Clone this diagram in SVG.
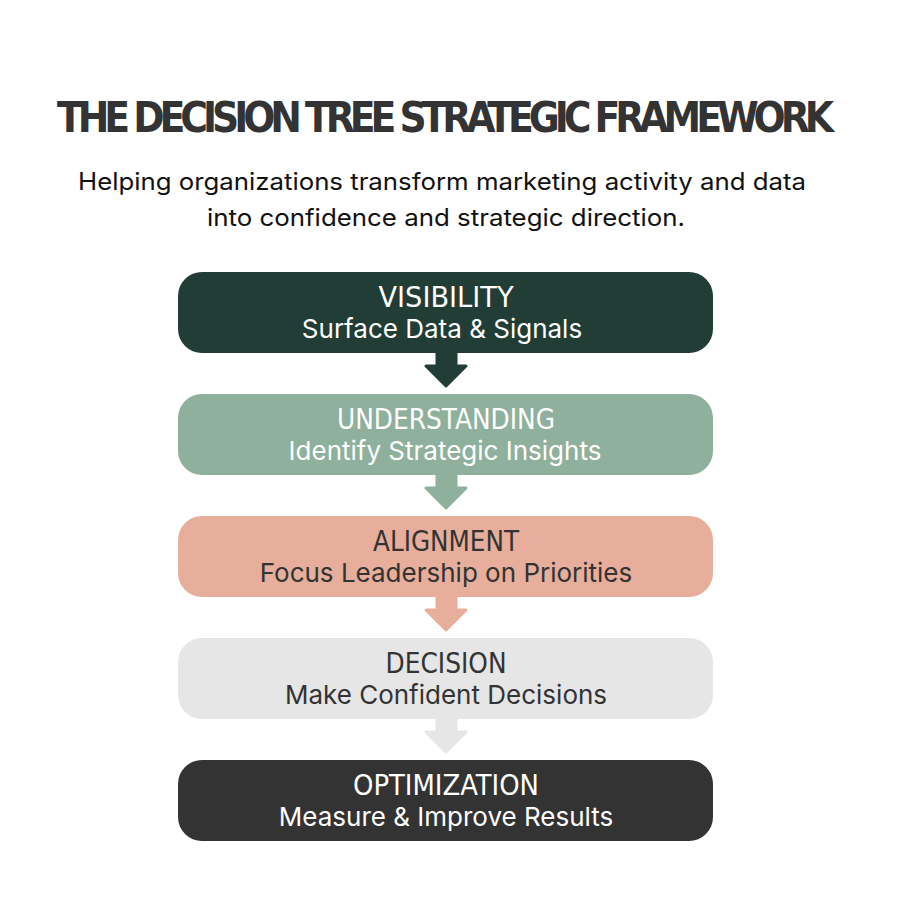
<svg xmlns="http://www.w3.org/2000/svg" width="900" height="900" viewBox="0 0 900 900">
<style>
.t{font-family:"DejaVu Sans Condensed","DejaVu Sans",sans-serif;font-weight:bold;font-size:42px;fill:#333}
.s{font-family:Inter,"Noto Sans",sans-serif;font-size:24px;fill:#111}
.h{font-family:"DejaVu Sans Condensed","DejaVu Sans",sans-serif;font-size:28px;text-anchor:middle}
.d{font-family:Inter,"Noto Sans",sans-serif;font-size:26px;text-anchor:middle}
</style>
<rect width="900" height="900" fill="#fff"/>
<text class="t" x="57" y="132" textLength="777" lengthAdjust="spacing">THE DECISION TREE STRATEGIC FRAMEWORK</text>
<text class="s" x="78" y="190" textLength="728" lengthAdjust="spacingAndGlyphs">Helping organizations transform marketing activity and data</text>
<text class="s" x="207" y="226" textLength="478" lengthAdjust="spacingAndGlyphs">into confidence and strategic direction.</text>
<g id="connectors">
<path d="M437 350 H456 V366 H466 L446 386 L426 366 H437 Z" fill="#213d36" stroke="#213d36" stroke-width="3" stroke-linejoin="round"/>
<path d="M437 472 H456 V488 H466 L446 508 L426 488 H437 Z" fill="#8fb09c" stroke="#8fb09c" stroke-width="3" stroke-linejoin="round"/>
<path d="M437 594 H456 V610 H466 L446 630 L426 610 H437 Z" fill="#e6ae9b" stroke="#e6ae9b" stroke-width="3" stroke-linejoin="round"/>
<path d="M437 716 H456 V732 H466 L446 752 L426 732 H437 Z" fill="#e6e6e6" stroke="#e6e6e6" stroke-width="3" stroke-linejoin="round"/>
</g>
<g id="n1"><rect x="178" y="272" width="535" height="81" rx="24" fill="#213d36"/>
<text class="h" x="446" y="307" fill="#fff" textLength="135" lengthAdjust="spacingAndGlyphs">VISIBILITY</text>
<text class="d" x="442" y="338" fill="#fff">Surface Data &amp; Signals</text></g>
<g id="n2"><rect x="178" y="394" width="535" height="81" rx="24" fill="#8fb09c"/>
<text class="h" x="446" y="429" fill="#fff" textLength="218" lengthAdjust="spacingAndGlyphs">UNDERSTANDING</text>
<text class="d" x="445" y="460" fill="#fff">Identify Strategic Insights</text></g>
<g id="n3"><rect x="178" y="516" width="535" height="81" rx="24" fill="#e6ae9b"/>
<text class="h" x="446" y="551" fill="#333" textLength="146" lengthAdjust="spacingAndGlyphs">ALIGNMENT</text>
<text class="d" x="446" y="582" fill="#333">Focus Leadership on Priorities</text></g>
<g id="n4"><rect x="178" y="638" width="535" height="81" rx="24" fill="#e6e6e6"/>
<text class="h" x="446" y="673" fill="#333" textLength="121" lengthAdjust="spacingAndGlyphs">DECISION</text>
<text class="d" x="446" y="704" fill="#333">Make Confident Decisions</text></g>
<g id="n5"><rect x="178" y="760" width="535" height="81" rx="24" fill="#333"/>
<text class="h" x="446" y="795" fill="#fff" textLength="186" lengthAdjust="spacingAndGlyphs">OPTIMIZATION</text>
<text class="d" x="446" y="826" fill="#fff">Measure &amp; Improve Results</text></g>
</svg>
